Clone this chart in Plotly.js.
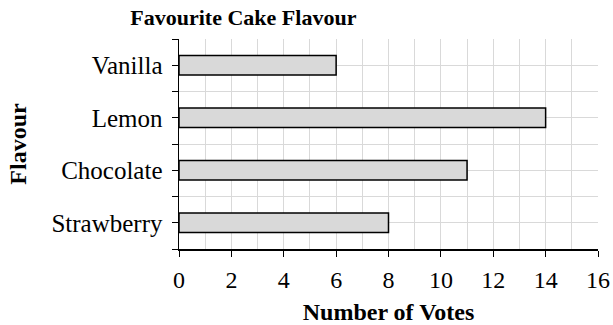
<!DOCTYPE html>
<html>
<head>
<meta charset="utf-8">
<script src="https://cdn.plot.ly/plotly-3.0.1.min.js"></script>
<style>html,body{margin:0;padding:0;background:#fff;}#chart{width:613px;height:325px;}</style>
</head>
<body>
<div id="chart"></div>
<script>
const flavours = ["Vanilla", "Lemon", "Chocolate", "Strawberry"];
const votes = [6, 14, 11, 8];
const xTicks = [0, 2, 4, 6, 8, 10, 12, 14, 16];
const boundaryTicks = [-0.5, 0.5, 1.5, 2.5, 3.5];

const serif = "Liberation Serif, Times New Roman, serif";

const data = [
  {
    type: "bar",
    orientation: "h",
    x: votes,
    y: flavours,
    width: 0.375,
    marker: { color: "#d9d9d9", line: { color: "#000000", width: 1.5 } },
    hoverinfo: "x+y"
  },
  { type: "scatter", x: [], y: [], yaxis: "y2", showlegend: false }
];

const layout = {
  width: 613,
  height: 325,
  margin: { l: 179, r: 15, t: 39, b: 76 },
  paper_bgcolor: "#ffffff",
  plot_bgcolor: "#ffffff",
  font: { family: serif, size: 22, color: "#000000" },
  showlegend: false,
  title: {
    text: "Favourite Cake Flavour",
    font: { family: serif, size: 22, weight: "bold", color: "#000000" },
    xref: "container", x: 0.397, xanchor: "center",
    yref: "container", y: 0.97, yanchor: "top"
  },
  xaxis: {
    range: [0, 16],
    tickvals: xTicks,
    ticks: "outside", ticklen: 6, tickcolor: "#000000", tickwidth: 1,
    showline: true, linecolor: "#000000", linewidth: 1.5,
    showgrid: true, gridcolor: "#d9d9d9", gridwidth: 1,
    zeroline: false,
    minor: { dtick: 1, showgrid: true, gridcolor: "#d9d9d9", gridwidth: 1 },
    tickfont: { family: serif, size: 24, color: "#000000" },
    ticklabelstandoff: 3,
    title: { text: "Number of Votes", standoff: 12,
             font: { family: serif, size: 24, weight: "bold", color: "#000000" } },
    automargin: false, fixedrange: true
  },
  yaxis: {
    type: "category",
    categoryorder: "array", categoryarray: flavours,
    range: [3.5, -0.5],
    ticks: "outside", ticklen: 6, tickcolor: "#000000", tickwidth: 1,
    showline: true, linecolor: "#000000", linewidth: 1.5,
    showgrid: true, gridcolor: "#d9d9d9", gridwidth: 1,
    zeroline: false,
    tickfont: { family: serif, size: 25, color: "#000000" },
    ticklabelstandoff: 4,
    title: { text: "Flavour", standoff: 18,
             font: { family: serif, size: 24, weight: "bold", color: "#000000" } },
    automargin: false, fixedrange: true
  },
  yaxis2: {
    overlaying: "y", anchor: "x", side: "left",
    range: [3.5, -0.5],
    tickvals: boundaryTicks,
    showticklabels: false,
    ticks: "outside", ticklen: 6, tickcolor: "#000000", tickwidth: 1,
    showline: false,
    showgrid: true, gridcolor: "#d9d9d9", gridwidth: 1,
    zeroline: false, fixedrange: true
  }
};

Plotly.newPlot("chart", data, layout, { displayModeBar: false, staticPlot: true });
</script>
</body>
</html>
